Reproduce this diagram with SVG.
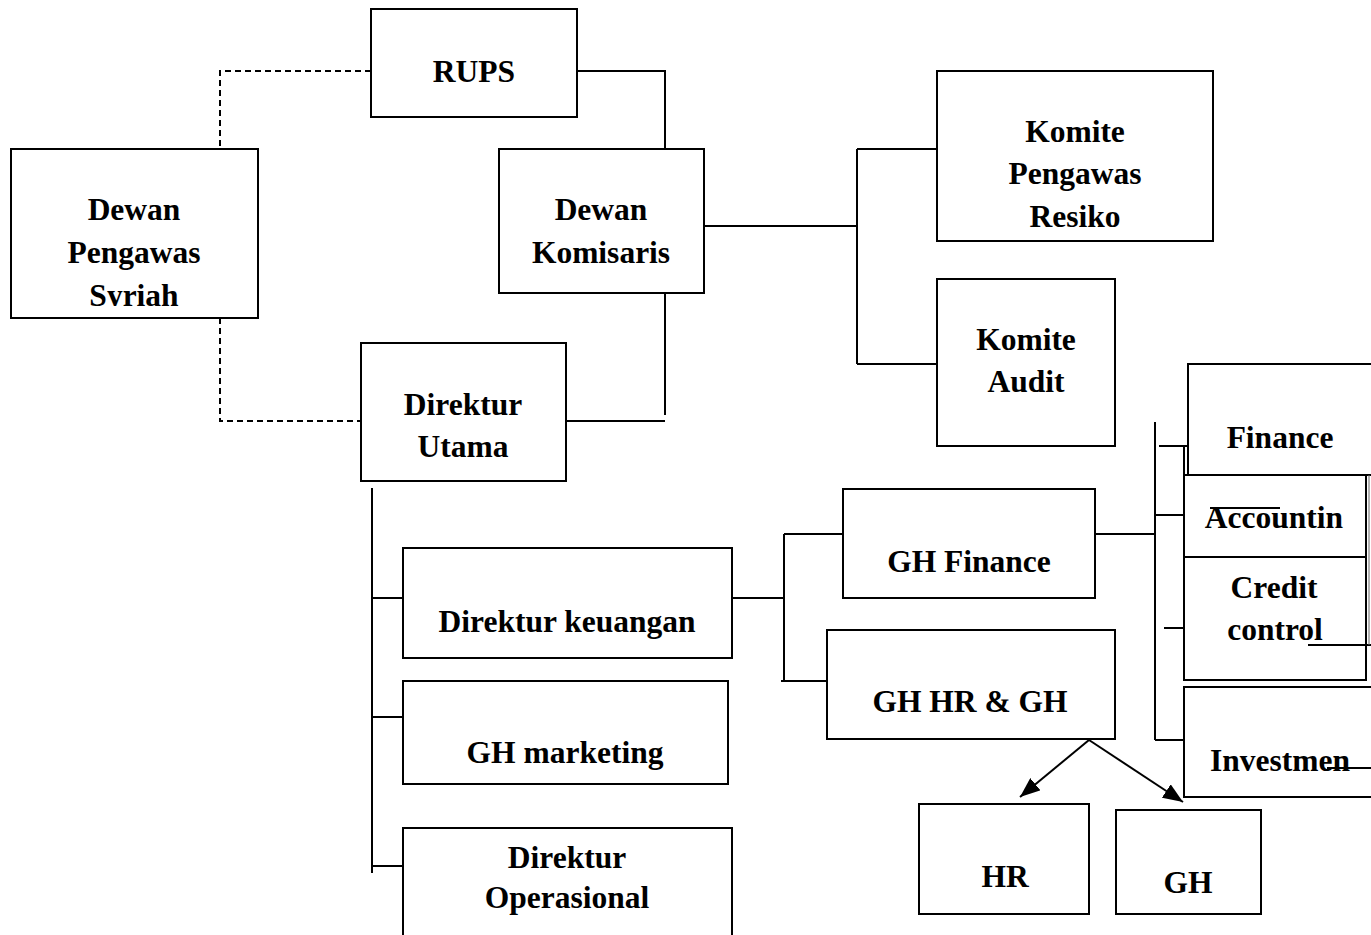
<svg xmlns="http://www.w3.org/2000/svg" width="1371" height="935" viewBox="0 0 1371 935">
<style>
.box{fill:#fff;stroke:#000;stroke-width:2}
.t{font-family:"Liberation Serif","Times New Roman",serif;font-weight:bold;font-size:31.5px;fill:#000;text-anchor:middle}
.c{fill:none;stroke:#000;stroke-width:2}
.d{fill:none;stroke:#000;stroke-width:2;stroke-dasharray:6 4}
</style>
<defs>
<marker id="ah" markerUnits="userSpaceOnUse" markerWidth="20" markerHeight="16" refX="20" refY="8" orient="auto">
<path d="M0,0 L20,8 L0,16 z" fill="#000"/>
</marker>
<clipPath id="clipDPS"><rect x="11" y="149" width="247" height="157"/></clipPath>
</defs>
<rect width="1371" height="935" fill="#fff"/>
<g id="connectors">
<path class="d" d="M371,71 H220 V149"/>
<path class="d" d="M220,318 V421 H361"/>
<path class="c" d="M577,71 H665 V149"/>
<path class="c" d="M665,293 V415"/>
<path class="c" d="M566,421 H665"/>
<path class="c" d="M704,226 H857"/>
<path class="c" d="M857,149 V364"/>
<path class="c" d="M857,149 H937"/>
<path class="c" d="M857,364 H937"/>
<path class="c" d="M372,488 V873"/>
<path class="c" d="M372,598 H403"/>
<path class="c" d="M372,717 H432"/>
<path class="c" d="M372,866 H403"/>
<path class="c" d="M732,598 H784"/>
<path class="c" d="M784,534 V681"/>
<path class="c" d="M784,534 H847"/>
<path class="c" d="M781,681 H843"/>
<path class="c" d="M1095,534 H1155"/>
<path class="c" d="M1155,422 V740"/>
<path class="c" d="M1159,446 H1188"/>
<path class="c" d="M1155,515 H1184"/>
<path class="c" d="M1164,628 H1194"/>
<path class="c" d="M1155,740 H1184"/>
<path class="c" d="M1089,740 L1020,797" marker-end="url(#ah)"/>
<path class="c" d="M1089,740 L1183,802" marker-end="url(#ah)"/>
</g>
<g id="n-rups"><rect class="box" x="371" y="9" width="206" height="108"/><text class="t" x="474" y="82">RUPS</text></g>
<g id="n-dps"><rect class="box" x="11" y="149" width="247" height="169"/><g clip-path="url(#clipDPS)"><text class="t" x="134" y="220">Dewan</text><text class="t" x="134" y="263">Pengawas</text><text class="t" x="134" y="306">Syriah</text></g></g>
<g id="n-dk"><rect class="box" x="499" y="149" width="205" height="144"/><text class="t" x="601" y="220">Dewan</text><text class="t" x="601" y="263">Komisaris</text></g>
<g id="n-du"><rect class="box" x="361" y="343" width="205" height="138"/><text class="t" x="463" y="415">Direktur</text><text class="t" x="463" y="457">Utama</text></g>
<g id="n-kpr"><rect class="box" x="937" y="71" width="276" height="170"/><text class="t" x="1075" y="142">Komite</text><text class="t" x="1075" y="184">Pengawas</text><text class="t" x="1075" y="227">Resiko</text></g>
<g id="n-ka"><rect class="box" x="937" y="279" width="178" height="167"/><text class="t" x="1026" y="350">Komite</text><text class="t" x="1026" y="392">Audit</text></g>
<g id="n-dkeu"><rect class="box" x="403" y="548" width="329" height="110"/><text class="t" x="567" y="632">Direktur keuangan</text></g>
<g id="n-ghm"><rect class="box" x="403" y="681" width="325" height="103"/><text class="t" x="565" y="763">GH marketing</text></g>
<g id="n-dop"><rect class="box" x="403" y="828" width="329" height="120"/><text class="t" x="567" y="868">Direktur</text><text class="t" x="567" y="908">Operasional</text></g>
<g id="n-ghf"><rect class="box" x="843" y="489" width="252" height="109"/><text class="t" x="969" y="572">GH Finance</text></g>
<g id="n-ghhr"><rect class="box" x="827" y="630" width="288" height="109"/><text class="t" x="970" y="712">GH HR &amp; GH</text></g>
<g id="n-hr"><rect class="box" x="919" y="804" width="170" height="110"/><text class="t" x="1005" y="887">HR</text></g>
<g id="n-gh"><rect class="box" x="1116" y="810" width="145" height="104"/><text class="t" x="1188" y="893">GH</text></g>
<g id="n-fin"><rect class="box" x="1188" y="364" width="200" height="111"/><text class="t" x="1280" y="448">Finance</text></g>
<g id="n-acc"><rect class="box" x="1184" y="475" width="182" height="82"/><path class="c" d="M1184,446 V475"/><text class="t" x="1274" y="528">Accountin</text><path class="c" d="M1210,508 H1280"/></g>
<g id="n-cc"><rect class="box" x="1184" y="557" width="182" height="123"/><text class="t" x="1274" y="598">Credit</text><text class="t" x="1275" y="640">control</text><path class="c" d="M1308,645 H1371"/><path d="M1369,475 V645" stroke="#666" stroke-width="1" fill="none"/></g>
<g id="n-inv"><rect class="box" x="1184" y="687" width="200" height="110"/><text class="t" x="1280" y="771">Investmen</text><path class="c" d="M1327,768 H1371"/></g>
</svg>
